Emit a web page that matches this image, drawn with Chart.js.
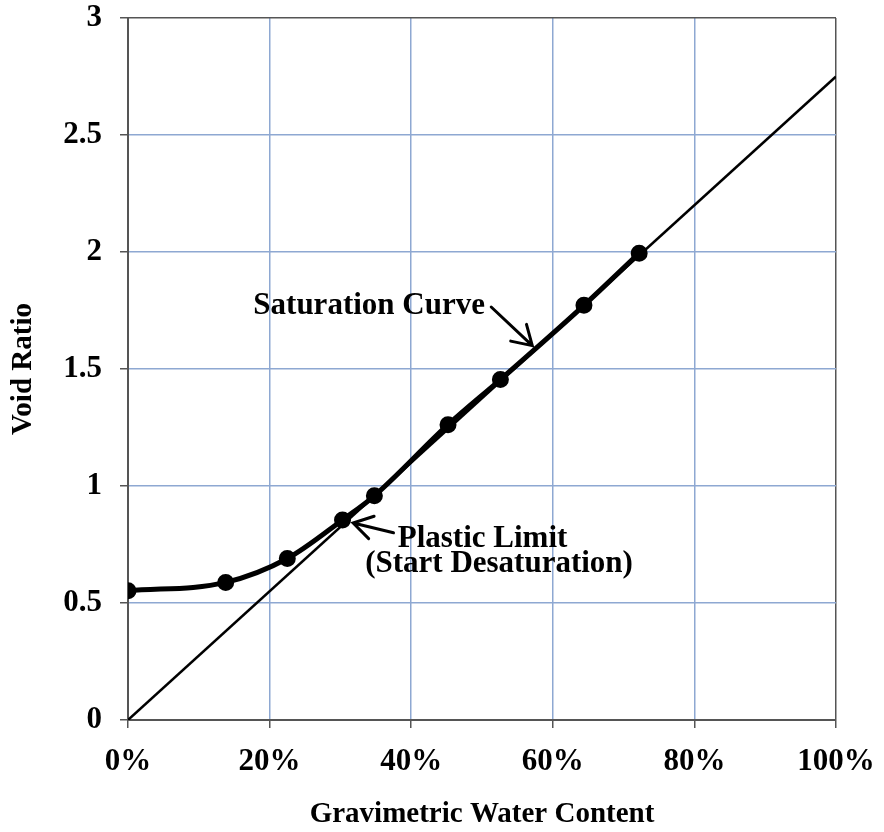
<!DOCTYPE html>
<html>
<head>
<meta charset="utf-8">
<script src="https://cdn.jsdelivr.net/npm/chart.js@4"></script>
<style>
  html, body { margin: 0; padding: 0; background: #fff; }
  #wrap { width: 884px; height: 832px; }
</style>
</head>
<body>
<div id="wrap"><canvas id="voidChart" width="884" height="832"></canvas></div>
<script>
// gravimetric water content (%) and void ratio
const waterContent = [0, 13.8, 22.5, 30.3, 34.8, 45.2, 52.6, 64.4, 72.2];
const voidRatio = [0.552, 0.588, 0.69, 0.855, 0.958, 1.262, 1.455, 1.772, 1.995];

// saturation line e = Gs * w, Gs = 2.75
const satWater = [0, 100];
const satVoid = [0, 2.75];

const xTicks = [0, 20, 40, 60, 80, 100];
const yTicks = [0, 0.5, 1, 1.5, 2, 2.5, 3];

const FONT = '"Liberation Serif", "Times New Roman", serif';
const GRID_BLUE = '#8ea8d2';
const EDGE = '#555555';

// annotation text and arrows, in data units (w %, e)
const notes = {
    texts: [
        { text: 'Saturation Curve', x: 17.7, y: 1.733 },
        { text: 'Plastic Limit', x: 38.1, y: 0.739 },
        { text: '(Start Desaturation)', x: 33.5, y: 0.632 }
    ],
    arrows: [
        { from: [51.3, 1.765], to: [57.1, 1.60] },
        { from: [37.5, 0.80], to: [31.8, 0.842] }
    ]
};

const annotatePlugin = {
    id: 'annotate',
    afterDatasetsDraw(chart) {
        const ctx = chart.ctx;
        const xs = chart.scales.x, ys = chart.scales.y;
        ctx.save();
        ctx.fillStyle = '#000';
        ctx.font = 'bold 31px ' + FONT;
        ctx.textBaseline = 'alphabetic';
        ctx.textAlign = 'left';
        notes.texts.forEach(t => {
            ctx.fillText(t.text, xs.getPixelForValue(t.x), ys.getPixelForValue(t.y));
        });
        ctx.strokeStyle = '#000';
        ctx.lineWidth = 3;
        ctx.lineCap = 'round';
        notes.arrows.forEach(a => {
            const x1 = xs.getPixelForValue(a.from[0]), y1 = ys.getPixelForValue(a.from[1]);
            const x2 = xs.getPixelForValue(a.to[0]), y2 = ys.getPixelForValue(a.to[1]);
            const ang = Math.atan2(y2 - y1, x2 - x1);
            const len = 22;
            ctx.beginPath();
            ctx.moveTo(x1, y1);
            ctx.lineTo(x2, y2);
            ctx.moveTo(x2 - len * Math.cos(ang - 0.55), y2 - len * Math.sin(ang - 0.55));
            ctx.lineTo(x2, y2);
            ctx.lineTo(x2 - len * Math.cos(ang + 0.55), y2 - len * Math.sin(ang + 0.55));
            ctx.stroke();
        });
        ctx.restore();
    }
};

const bgPlugin = {
    id: 'bg',
    beforeDraw(chart) {
        const ctx = chart.ctx;
        ctx.save();
        ctx.fillStyle = '#fff';
        ctx.fillRect(0, 0, chart.width, chart.height);
        ctx.restore();
    }
};

const canvas = document.getElementById('voidChart');

const chart = new Chart(canvas, {
    type: 'scatter',
    data: {
        datasets: [{
            label: 'Saturation Curve',
            data: satWater.map((w, i) => ({ x: w, y: satVoid[i] })),
            showLine: true,
            borderColor: '#000',
            borderWidth: 2.5,
            pointRadius: 0,
            order: 2
        }, {
            label: 'Measured',
            data: waterContent.map((w, i) => ({ x: w, y: voidRatio[i] })),
            showLine: true,
            cubicInterpolationMode: 'monotone',
            borderColor: '#000',
            backgroundColor: '#000',
            borderWidth: 5,
            pointRadius: 6,
            pointHoverRadius: 6,
            order: 1
        }]
    },
    options: {
        responsive: false,
        animation: false,
        layout: { padding: { top: 18, right: 48, left: 0, bottom: 0 } },
        plugins: {
            legend: { display: false },
            tooltip: { enabled: false }
        },
        scales: {
            x: {
                type: 'linear',
                min: 0,
                max: 100,
                afterBuildTicks: s => { s.ticks = xTicks.map(v => ({ value: v })); },
                afterFit: s => {
                    s.height = 112;
                    s.paddingLeft = 0;
                    s.paddingRight = 0;
                },
                ticks: {
                    callback: v => v + '%',
                    color: '#000',
                    font: { family: FONT, size: 31, weight: 'bold' },
                    padding: 15,
                    maxRotation: 0
                },
                grid: {
                    color: ctx => (ctx.tick && (ctx.tick.value === 0 || ctx.tick.value === 100)) ? EDGE : GRID_BLUE,
                    lineWidth: 1.5,
                    tickColor: EDGE,
                    tickLength: 8
                },
                border: { color: EDGE, width: 2 },
                title: {
                    display: true,
                    text: 'Gravimetric Water Content',
                    color: '#000',
                    font: { family: FONT, size: 29, weight: 'bold' },
                    padding: { top: 0, bottom: 0 }
                }
            },
            y: {
                type: 'linear',
                min: 0,
                max: 3,
                afterBuildTicks: s => { s.ticks = yTicks.map(v => ({ value: v })); },
                afterFit: s => {
                    s.width = 128;
                    s.paddingTop = 0;
                    s.paddingBottom = 0;
                },
                ticks: {
                    callback: v => String(v),
                    color: '#000',
                    font: { family: FONT, size: 31, weight: 'bold' },
                    padding: 18
                },
                grid: {
                    color: ctx => (ctx.tick && (ctx.tick.value === 0 || ctx.tick.value === 3)) ? EDGE : GRID_BLUE,
                    lineWidth: 1.5,
                    tickColor: EDGE,
                    tickLength: 8
                },
                border: { color: EDGE, width: 2 },
                title: {
                    display: true,
                    text: 'Void Ratio',
                    color: '#000',
                    font: { family: FONT, size: 29, weight: 'bold' },
                    padding: { top: 6, bottom: 0 }
                }
            }
        }
    },
    plugins: [bgPlugin, annotatePlugin]
});
</script>
</body>
</html>
